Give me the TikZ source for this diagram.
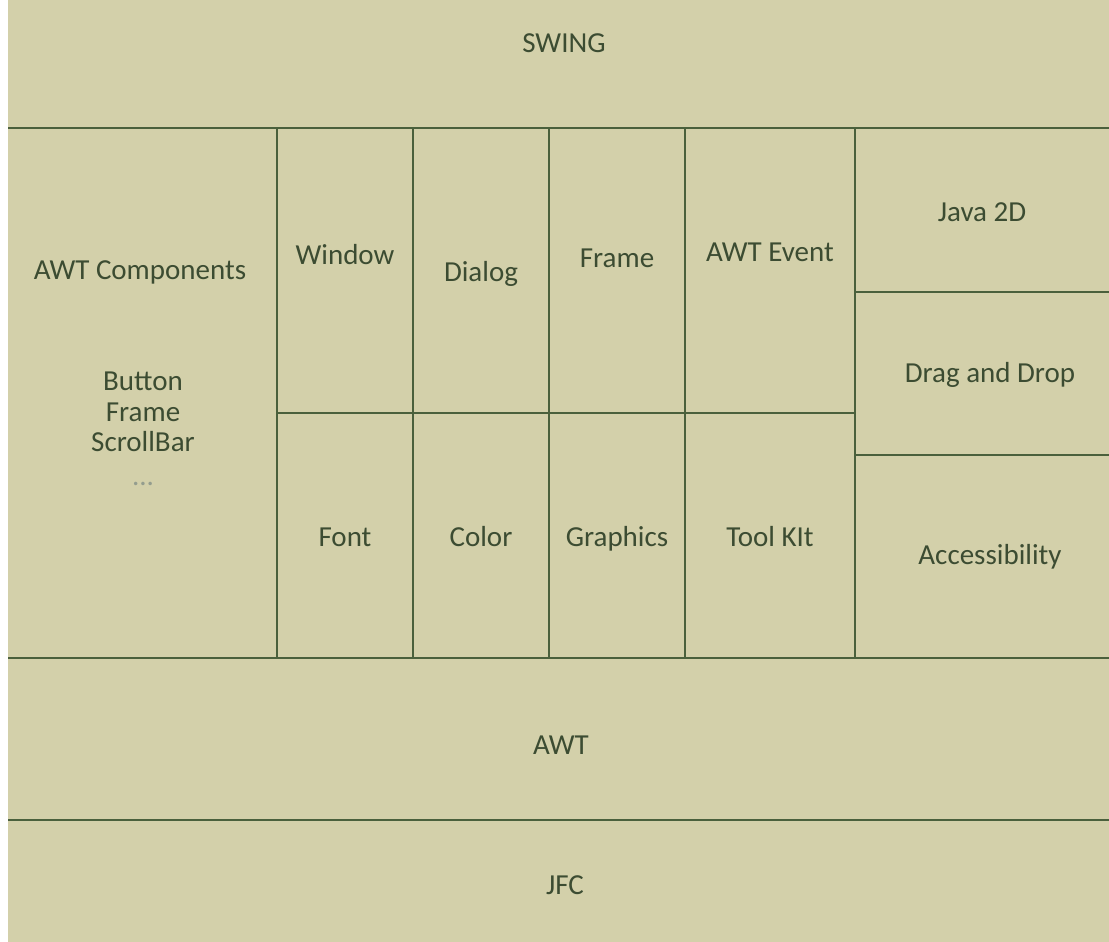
\documentclass[tikz,border=0pt]{standalone}
\usepackage{fontspec}
\setmainfont{Carlito}
\usetikzlibrary{positioning}
\definecolor{panel}{RGB}{211,208,170}
\definecolor{rule}{RGB}{74,96,60}
\definecolor{ink}{RGB}{60,76,50}

\begin{document}
\begin{tikzpicture}[
    x=0.5pt, y=-0.5pt,
    grid/.style={draw=rule, line width=1.4pt},
    label/.style={text=ink, font=\fontsize{14.5}{17}\selectfont, inner sep=0pt, text height=0.65em, text depth=0pt, yshift=-1.5pt},
    dots/.style={label, text=ink!55}
]
\useasboundingbox (0,0) rectangle (1109,942);
\fill[white] (0,0) rectangle (1109,942);
\fill[panel] (8,0) rectangle (1109,942);

% bands
\draw[grid] (8,128) -- (1109,128);
\draw[grid] (8,658) -- (1109,658);
\draw[grid] (8,820) -- (1109,820);

% columns
\foreach \x in {277,413,549,685,855}
    \draw[grid] (\x,128) -- (\x,658);
\draw[grid] (277,413) -- (855,413);
\draw[grid] (855,292) -- (1109,292);
\draw[grid] (855,455) -- (1109,455);

\node[label] (swing) at (564,43) {SWING};

\node[label] (comp) at (140,270) {AWT Components};
\node[label] (button) at (143,381) {Button};
\node[label] (frameA) at (143,412) {Frame};
\node[label] (scroll) at (143,442) {ScrollBar};
\node[dots] (more) at (143,476) {...};

\node[label] (window) at (345,255) {Window};
\node[label] (dialog) at (481,272) {Dialog};
\node[label] (frameB) at (617,258) {Frame};
\node[label] (event) at (770,252) {AWT Event};

\node[label] (font) at (345,537) {Font};
\node[label] (color) at (481,537) {Color};
\node[label] (graphics) at (617,537) {Graphics};
\node[label] (toolkit) at (770,537) {Tool KIt};

\node[label] (java2d) at (982,212) {Java 2D};
\node[label] (dnd) at (990,373) {Drag and Drop};
\node[label] (access) at (990,555) {Accessibility};

\node[label] (awt) at (561,745) {AWT};
\node[label] (jfc) at (565,885) {JFC};
\end{tikzpicture}
\end{document}
